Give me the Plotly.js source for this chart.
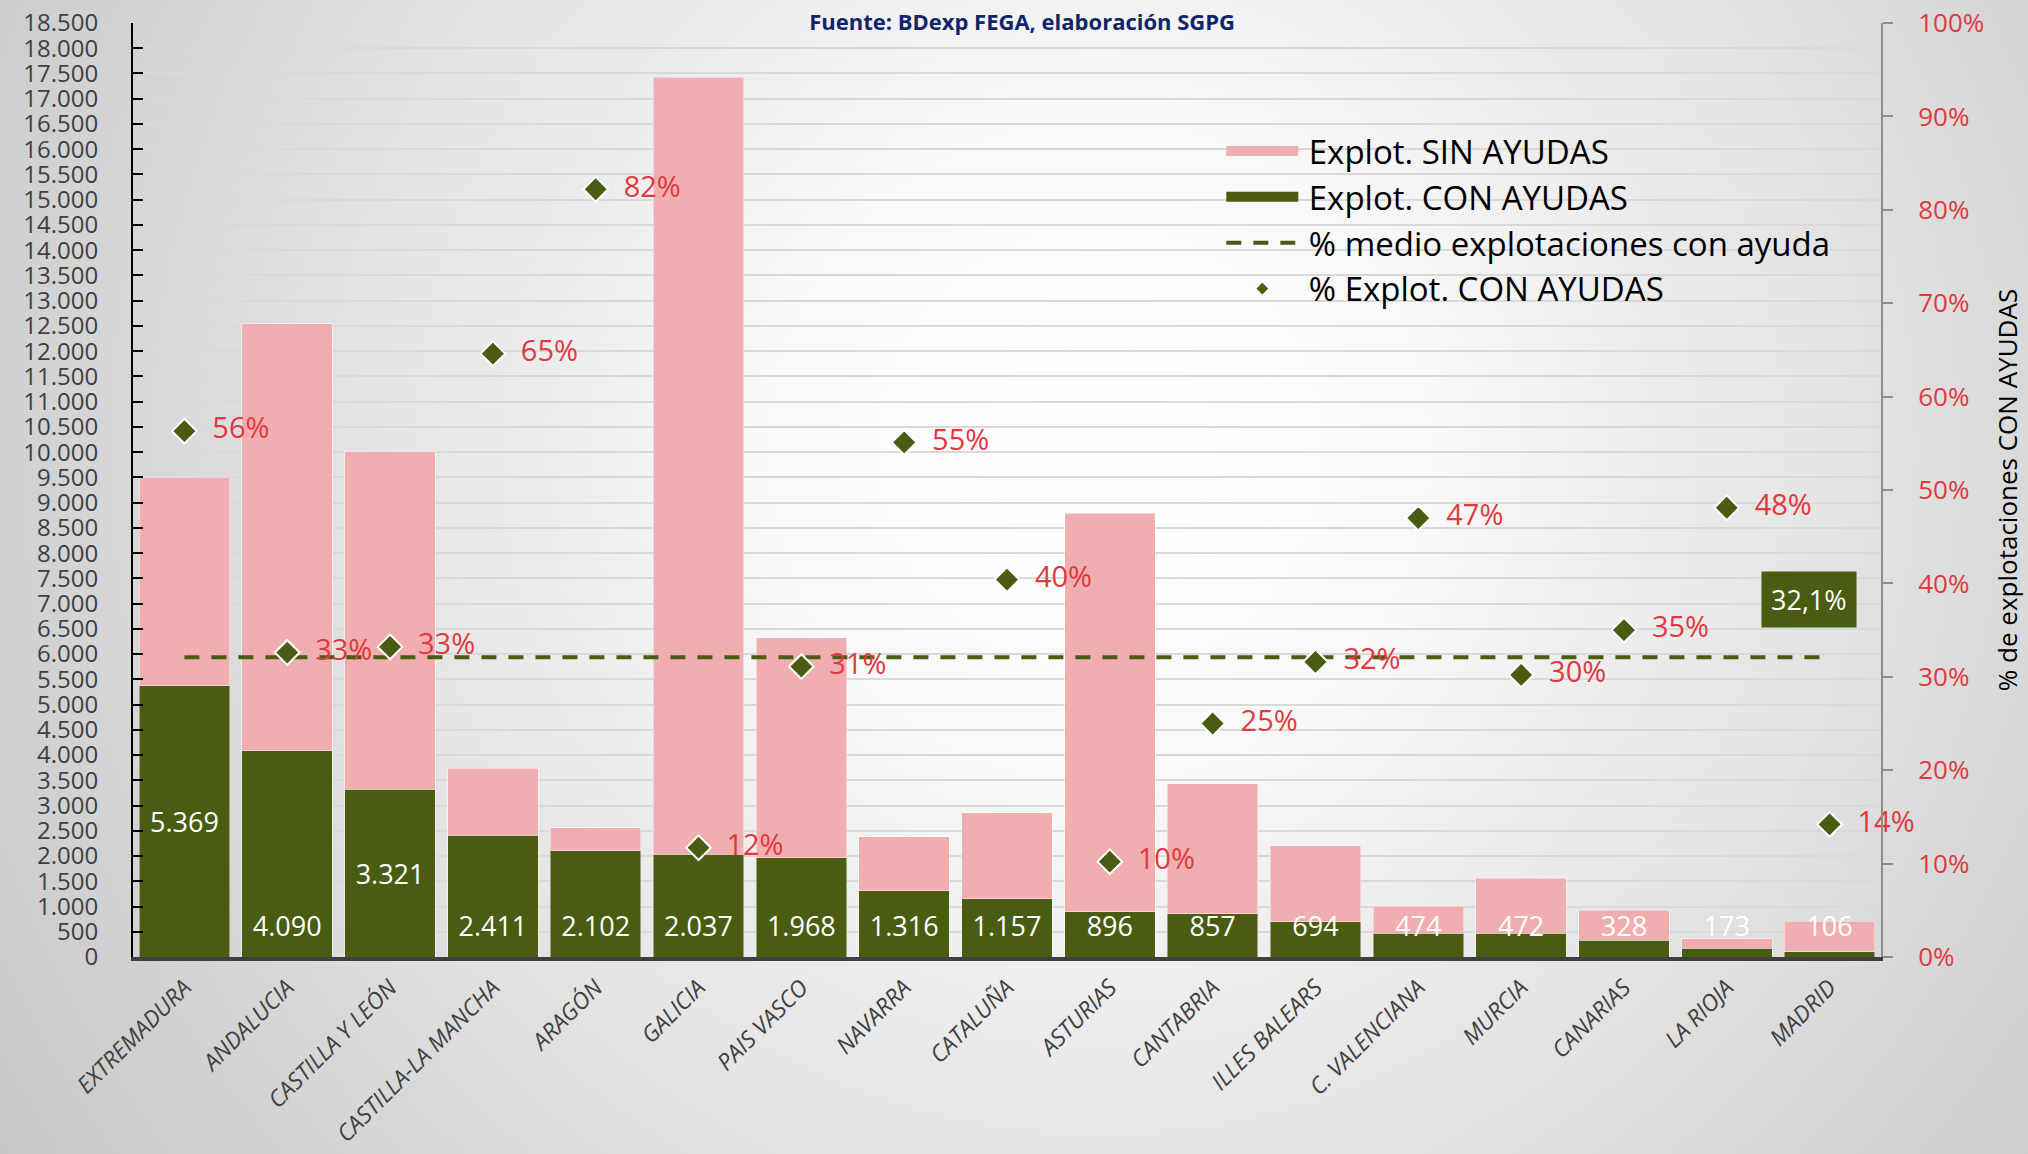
<!DOCTYPE html>
<html>
<head>
<meta charset="utf-8">
<script src="https://cdn.plot.ly/plotly-3.0.1.min.js"></script>
<style>
html,body{margin:0;padding:0;background:#d0d0d0;}
#chart{width:2028px;height:1154px;}
</style>
</head>
<body>
<div id="chart"></div>
<script>
// ---- data ----
const regions = ['EXTREMADURA','ANDALUCIA','CASTILLA Y LEÓN','CASTILLA-LA MANCHA','ARAGÓN','GALICIA','PAIS VASCO','NAVARRA','CATALUÑA','ASTURIAS','CANTABRIA','ILLES BALEARS','C. VALENCIANA','MURCIA','CANARIAS','LA RIOJA','MADRID'];
const conAyudas = [5369,4090,3321,2411,2102,2037,1968,1316,1157,896,857,694,474,472,328,173,106];
const sinAyudas = [4130,8450,6690,1330,460,15390,4360,1070,1700,7890,2570,1510,530,1090,600,190,600];
const pctConAyudas = [0.563,0.326,0.332,0.646,0.822,0.117,0.311,0.551,0.404,0.102,0.25,0.316,0.47,0.302,0.35,0.481,0.142];
const pctMedio = 0.321;
const pctMedioLabel = '32,1%';
const titleText = 'Fuente: BDexp FEGA, elaboración SGPG';
const y2Title = '% de explotaciones CON AYUDAS';

// ---- style ----
const GREEN = '#4a5b12';
const PINK = '#f0aeb0';
const RED = '#e0393f';
const FONT = 'Open Sans, Noto Sans, sans-serif';
const centeredLabels = ['EXTREMADURA','CASTILLA Y LEÓN'];
const TS = '\u2009';

const bgSvg = '<svg xmlns="http://www.w3.org/2000/svg" width="2028" height="1154">' +
  '<defs><radialGradient id="g" gradientUnits="userSpaceOnUse" cx="1100" cy="450" r="1350">' +
  '<stop offset="0" stop-color="#ffffff"/><stop offset="0.25" stop-color="#f8f8f8"/>' +
  '<stop offset="1" stop-color="#c4c4c4"/></radialGradient></defs>' +
  '<rect width="2028" height="1154" fill="url(#g)"/></svg>';
const bgUri = 'data:image/svg+xml;base64,' + btoa(bgSvg);

const L = 133, R = 147, T = 23, B = 197, W = 2028, H = 1154;
const pw = W - L - R, ph = H - T - B;

const traces = [
  {
    type: 'bar', name: 'Explot. CON AYUDAS', x: regions, y: conAyudas,
    marker: {color: GREEN, line: {color: 'rgba(255,255,255,0.45)', width: 1}},
    texttemplate: '%{y:,.0f}',
    textposition: regions.map(r => centeredLabels.includes(r) ? 'inside' : 'none'),
    insidetextanchor: 'middle',
    insidetextfont: {color: '#ffffff', size: 27, family: FONT},
    constraintext: 'none',
    showlegend: false, hoverinfo: 'skip'
  },
  {
    type: 'bar', name: 'Explot. SIN AYUDAS', x: regions, y: sinAyudas,
    marker: {color: PINK, line: {color: 'rgba(255,255,255,0.45)', width: 1}},
    showlegend: false, hoverinfo: 'skip'
  },
  {
    type: 'scatter', mode: 'markers+text', x: regions, y: regions.map(() => 0),
    customdata: conAyudas,
    texttemplate: regions.map(r => centeredLabels.includes(r) ? '' : '%{customdata:,.0f}'),
    textposition: 'top center',
    textfont: {color: '#ffffff', size: 27, family: FONT},
    marker: {size: 22, color: 'rgba(0,0,0,0)'},
    cliponaxis: false, showlegend: false, hoverinfo: 'skip'
  },
  // legend entries for the bars (wide swatches)
  {type: 'scatter', mode: 'lines', x: [null], y: [null], name: TS + 'Explot. SIN AYUDAS',
   line: {color: PINK, width: 20}, legendrank: 1},
  {type: 'scatter', mode: 'lines', x: [null], y: [null], name: TS + 'Explot. CON AYUDAS',
   line: {color: GREEN, width: 20}, legendrank: 2},
  {
    type: 'scatter', mode: 'lines', name: TS + '% medio explotaciones con ayuda',
    x: [regions[0], regions[regions.length - 1]], y: [pctMedio, pctMedio], yaxis: 'y2',
    line: {color: GREEN, width: 4, dash: '15px,12px'}, legendrank: 3, hoverinfo: 'skip'
  },
  {
    type: 'scatter', mode: 'markers+text', name: '% Explot. CON AYUDAS',
    x: regions, y: pctConAyudas, yaxis: 'y2',
    marker: {symbol: 'diamond', size: 19, color: GREEN, line: {color: '#ffffff', width: 2}},
    texttemplate: '\u00a0\u00a0%{y:.0%}', textposition: 'middle right',
    textfont: {color: RED, size: 29, family: FONT},
    cliponaxis: false, showlegend: false, hoverinfo: 'skip'
  },
  {type: 'scatter', mode: 'markers', x: [null], y: [null], name: TS + '% Explot. CON AYUDAS',
   marker: {symbol: 'diamond', size: 9, color: GREEN}, legendrank: 4}
];

const layout = {
  width: W, height: H,
  margin: {l: L, r: R, t: T, b: B, pad: 0},
  paper_bgcolor: '#d0d0d0',
  plot_bgcolor: 'rgba(0,0,0,0)',
  separators: ',.',
  barmode: 'stack', bargap: 0.12,
  font: {family: FONT, color: '#404040'},
  images: [{
    source: bgUri, xref: 'paper', yref: 'paper',
    x: -L / pw, y: 1 + T / ph, sizex: W / pw, sizey: H / ph,
    xanchor: 'left', yanchor: 'top', sizing: 'stretch', layer: 'below'
  }],
  title: {
    text: '<b>' + titleText + '</b>', x: 0.504, xanchor: 'center',
    y: 1 - 22 / H, yref: 'container', yanchor: 'middle',
    font: {family: FONT, size: 22, color: '#10266b'}
  },
  xaxis: {
    type: 'category', range: [-0.5, regions.length - 0.5], autorange: false,
    tickangle: -45,
    tickfont: {family: FONT, size: 23, color: '#404040', style: 'italic'},
    showline: true, linecolor: '#404040', linewidth: 4,
    ticks: '', showgrid: false, ticklabelstandoff: 4
  },
  yaxis: {
    range: [0, 18500], dtick: 500, tickformat: ',d',
    tickfont: {family: FONT, size: 24, color: '#404040'},
    showline: true, linecolor: '#000000', linewidth: 2,
    ticks: 'inside', ticklen: 10, tickwidth: 2, tickcolor: '#000000',
    showgrid: true, gridcolor: '#d9d9d9', gridwidth: 2,
    zeroline: false, ticklabelstandoff: 28
  },
  yaxis2: {
    overlaying: 'y', side: 'right', range: [0, 1], dtick: 0.1, tickformat: '.0%',
    tickfont: {family: FONT, size: 26, color: RED},
    showline: true, linecolor: '#8c8c8c', linewidth: 2,
    ticks: 'outside', ticklen: 10, tickwidth: 2, tickcolor: '#8c8c8c',
    showgrid: false, zeroline: false, ticklabelstandoff: 20,
    title: {text: y2Title, font: {family: FONT, size: 26, color: '#000000'}, standoff: 16}
  },
  legend: {
    x: 0.6226, y: 0.893, xanchor: 'left', yanchor: 'top',
    bgcolor: 'rgba(0,0,0,0)', traceorder: 'normal', itemwidth: 72,
    font: {family: FONT, size: 33, color: '#000000'}
  },
  annotations: [{
    x: regions[regions.length - 1], y: pctMedio, xref: 'x', yref: 'y2',
    text: pctMedioLabel, showarrow: false, xshift: -21, yshift: 58,
    bgcolor: GREEN, borderpad: 9,
    font: {family: FONT, size: 27, color: '#ffffff'}
  }],
  showlegend: true
};

Plotly.newPlot('chart', traces, layout, {displayModeBar: false, staticPlot: true});
</script>
</body>
</html>
